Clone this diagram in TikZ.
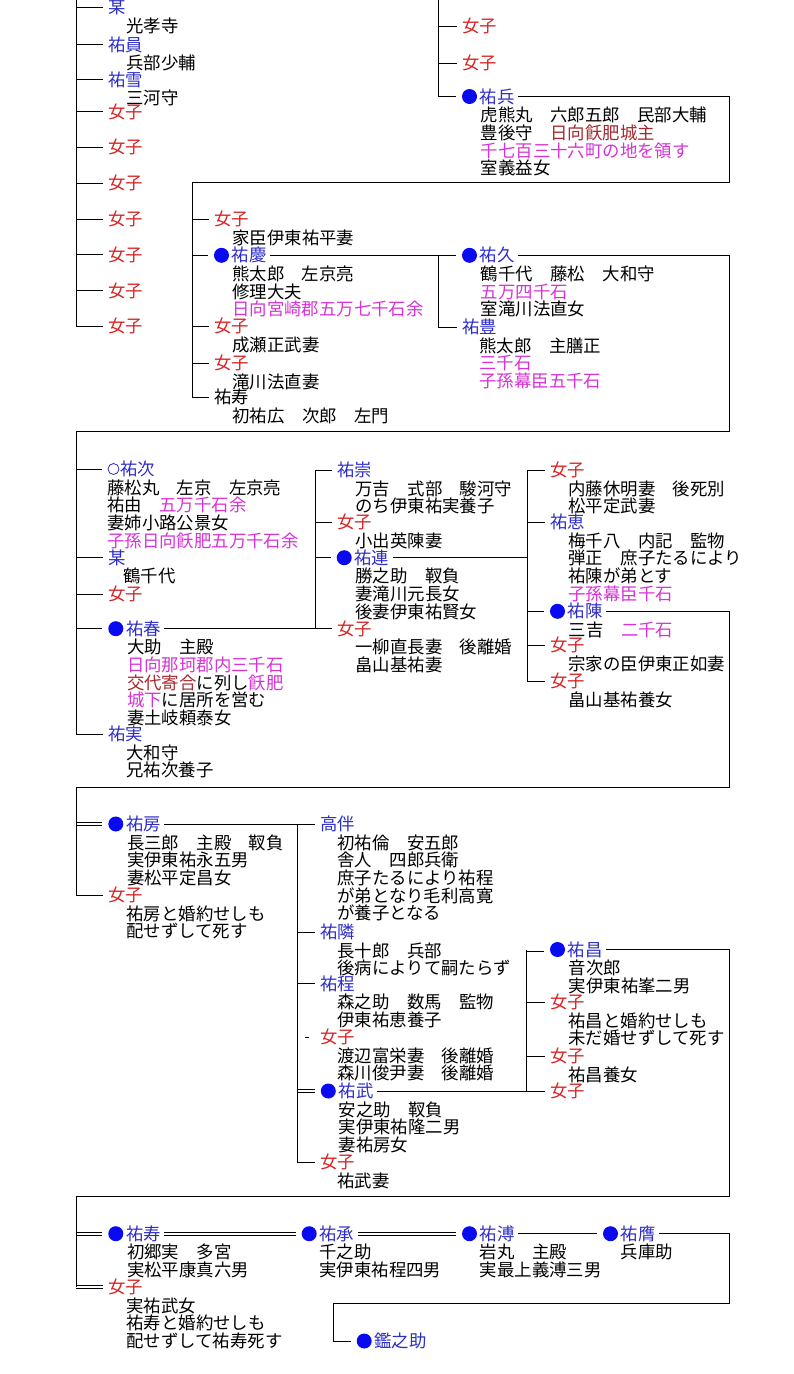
\documentclass[tikz,border=0pt]{standalone}
\usepackage{fontspec}
\setmainfont{Noto Sans CJK JP}
\usetikzlibrary{positioning}
\definecolor{kinblue}{RGB}{45,45,200}
\definecolor{dotblue}{RGB}{10,10,240}
\definecolor{jored}{RGB}{215,35,35}
\definecolor{kokumg}{RGB}{215,50,215}
\definecolor{dkred}{RGB}{165,40,45}
\newcommand\mg[1]{\textcolor{kokumg}{#1}}
\newcommand\dr[1]{\textcolor{dkred}{#1}}
\newcommand\rows[1]{\vtop{\lineskiplimit=-5pt\let\\\cr\halign{##\hfil\cr#1\crcr}}}
\newcommand\info[3][18]{\node[info] (#2-i) at ([shift={(#1,18.5)}]#2.base west) {\rows{#3}};}
\tikzset{
    nm/.style={anchor=west, inner sep=0pt, text height=15.3pt, text depth=2.1pt, text=kinblue},
    jo/.style={nm, text=jored},
    info/.style={anchor=base west, inner sep=0pt},
    dot/.style={circle, fill=dotblue, inner sep=0pt, minimum size=15pt},
    ring/.style={circle, draw=kinblue, line width=0.8pt, inner sep=0pt, minimum size=11pt},
    tick/.style={shorten >=5.5pt},
    lnk/.style={shorten <=3pt, shorten >=5.5pt},
    lead/.style={shorten <=3pt},
    dbl/.style={double, double distance=2.4pt}
}
\begin{document}
\begin{tikzpicture}[x=1pt, y=-1pt, line width=0.8pt,
    every node/.append style={font=\fontsize{17.4pt}{17.7pt}\selectfont}]
\useasboundingbox (0,0) rectangle (794,1374);

% first column, top
\coordinate (tA) at (76,-5);
\node[nm] (bou-a) at (108,7) {某};
\info{bou-a}{光孝寺}
\node[nm] (sukekazu) at (108,44.5) {祐員};
\info{sukekazu}{兵部少輔}
\node[nm] (sukeyuki) at (108,79.5) {祐雪};
\info{sukeyuki}{三河守}
\foreach \i in {0,...,6}{
    \node[jo] (lj\i) at (108,{111.5+35.8*\i}) {女子};
}
\draw[tick] (tA) |- (lj6);
\foreach \n in {bou-a,sukekazu,sukeyuki,lj0,lj1,lj2,lj3,lj4,lj5}
    \draw[tick] (tA |- \n) -- (\n);

% right column, top
\coordinate (tB) at (438,-5);
\node[jo] (rj1) at (462,26) {女子};
\node[jo] (rj2) at (462,63) {女子};
\node[dot] (suketaka-d) at (469.5,96.5) {};
\node[nm, right=2pt of suketaka-d] (suketaka) {祐兵};
\info[1]{suketaka}{虎熊丸　六郎五郎　民部大輔\\豊後守　\dr{日向飫肥城主}\\\mg{千七百三十六町の地を領す}\\室義益女}
\draw[tick] (tB) |- (suketaka-d);
\foreach \n in {rj1,rj2}
    \draw[tick] (tB |- \n) -- (\n);

% children of suketaka
\coordinate (rA) at (729,182);
\coordinate (tC) at (192,182);
\node[jo] (s2j1) at (214,219) {女子};
\info{s2j1}{家臣伊東祐平妻}
\node[dot] (sukeyoshi-d) at (221.5,255.3) {};
\node[nm, right=2pt of sukeyoshi-d] (sukeyoshi) {祐慶};
\info[0.5]{sukeyoshi}{熊太郎　左京亮\\修理大夫\\\mg{日向宮崎郡五万七千石余}}
\node[jo] (s2j2) at (214,326) {女子};
\info{s2j2}{成瀬正武妻}
\node[jo] (s2j3) at (214,363) {女子};
\info{s2j3}{滝川法直妻}
\node[nm, text=black] (sukenaga) at (214,397) {祐寿};
\info{sukenaga}{初祐広　次郎　左門}
\draw[lnk] (suketaka.east) -| (rA) -- (tC) |- (sukenaga);
\foreach \n in {s2j1,sukeyoshi-d,s2j2,s2j3}
    \draw[tick] (tC |- \n) -- (\n);

% children of sukeyoshi
\coordinate (tD) at (438,255.3);
\node[dot] (sukehisa-d) at (469.5,255.3) {};
\node[nm, right=2pt of sukehisa-d] (sukehisa) {祐久};
\info[1]{sukehisa}{鶴千代　藤松　大和守\\\mg{五万四千石}\\室滝川法直女}
\node[nm] (suketoyo) at (462,327) {祐豊};
\info[17]{suketoyo}{熊太郎　主膳正\\\mg{三千石}\\\mg{子孫幕臣五千石}}
\draw[lnk] (sukeyoshi.east) -- (sukehisa-d);
\draw[tick] (tD) |- (suketoyo);

% children of sukehisa
\coordinate (rC) at (729,431);
\coordinate (tE) at (76,431);
\node[ring] (suketsugu-r) at (113.5,469) {};
\node[nm, right=0.5pt of suketsugu-r] (suketsugu) {祐次};
\info[-13]{suketsugu}{藤松丸　左京　左京亮\\祐由　\mg{五万千石余}\\妻姉小路公景女\\\mg{子孫日向飫肥五万千石余}}
\node[nm] (bou-b) at (108,557.5) {某};
\info[15]{bou-b}{鶴千代}
\node[jo] (s3j1) at (108,594) {女子};
\node[dot] (sukeharu-d) at (115.8,628.7) {};
\node[nm, right=2pt of sukeharu-d] (sukeharu) {祐春};
\info[1]{sukeharu}{大助　主殿\\\mg{日向那珂郡内三千石}\\\dr{交代寄合}に列し\mg{飫肥}\\\mg{城下}に居所を営む\\妻土岐頼泰女}
\node[nm] (sukezane) at (108,734) {祐実};
\info{sukezane}{大和守\\兄祐次養子}
\draw[lnk] (sukehisa.east) -| (rC) -- (tE) |- (sukezane);
\foreach \n in {suketsugu-r,bou-b,s3j1,sukeharu-d}
    \draw[tick] (tE |- \n) -- (\n);

% children of sukeharu
\coordinate (tF) at (315,470);
\node[nm] (sukemune) at (337,470) {祐崇};
\info{sukemune}{万吉　式部　駿河守\\のち伊東祐実養子}
\node[jo] (s3j2) at (337,522) {女子};
\info{s3j2}{小出英陳妻}
\node[dot] (suketsura-d) at (344.2,557.7) {};
\node[nm, right=2pt of suketsura-d] (suketsura) {祐連};
\info[1]{suketsura}{勝之助　靫負\\妻滝川元長女\\後妻伊東祐賢女}
\node[jo] (s3j3) at (337,628.7) {女子};
\info{s3j3}{一柳直長妻　後離婚\\畠山基祐妻}
\draw[tick] (tF) -- (sukemune);
\draw (tF) -- (tF |- s3j3);
\draw[lnk] (sukeharu.east) -- (s3j3);
\foreach \n in {s3j2,suketsura-d}
    \draw[tick] (tF |- \n) -- (\n);

% children of suketsura
\coordinate (tG) at (527,470);
\node[jo] (s3j4) at (550,470) {女子};
\info{s3j4}{内藤休明妻　後死別\\松平定武妻}
\node[nm] (sukeshige) at (550,522) {祐恵};
\info{sukeshige}{梅千八　内記　監物\\弾正　庶子たるにより\\祐陳が弟とす\\\mg{子孫幕臣千石}}
\node[dot] (sukenobu-d) at (557.5,611.3) {};
\node[nm, right=2pt of sukenobu-d] (sukenobu) {祐陳};
\info[1]{sukenobu}{三吉　\mg{二千石}}
\node[jo] (s3j5) at (550,645.3) {女子};
\info{s3j5}{宗家の臣伊東正如妻}
\node[jo] (s3j6) at (550,681.3) {女子};
\info{s3j6}{畠山基祐養女}
\draw[tick] (tG) |- (s3j6);
\draw[lead] (suketsura.east) -- (suketsura.east -| tG);
\foreach \n in {s3j4,sukeshige,sukenobu-d,s3j5}
    \draw[tick] (tG |- \n) -- (\n);

% children of sukenobu
\coordinate (rH) at (729,787);
\coordinate (tH) at (76,787);
\node[dot] (sukefusa-d) at (115.8,824) {};
\node[nm, right=2pt of sukefusa-d] (sukefusa) {祐房};
\info[1]{sukefusa}{長三郎　主殿　靫負\\実伊東祐永五男\\妻松平定昌女}
\node[jo] (s4j1) at (108,895) {女子};
\info{s4j1}{祐房と婚約せしも\\配せずして死す}
\draw[dbl, tick] (tH |- sukefusa-d) -- (sukefusa-d);
\draw[lnk] (sukenobu.east) -| (rH) -- (tH) |- (s4j1);

% children of sukefusa
\coordinate (tI) at (297,824);
\node[nm] (takatomo) at (320,824) {高伴};
\info[17]{takatomo}{初祐倫　安五郎\\舎人　四郎兵衛\\庶子たるにより祐程\\が弟となり毛利高寛\\が養子となる}
\node[nm] (sukechika) at (320,932) {祐隣};
\info[17]{sukechika}{長十郎　兵部\\後病によりて嗣たらず}
\node[nm] (sukenori) at (320,983.7) {祐程};
\info[17]{sukenori}{森之助　数馬　監物\\伊東祐恵養子}
\node[jo] (s4j2) at (320,1037) {女子};
\info[17]{s4j2}{渡辺富栄妻　後離婚\\森川俊尹妻　後離婚}
\node[dot] (suketake-d) at (328.3,1091) {};
\node[nm, right=2pt of suketake-d] (suketake) {祐武};
\info[0]{suketake}{安之助　靫負\\実伊東祐隆二男\\妻祐房女}
\node[jo] (s4j3) at (320,1162) {女子};
\info[17]{s4j3}{祐武妻}
\draw[dbl, tick] (tI |- suketake-d) -- (suketake-d);
\draw[lnk] (sukefusa.east) -- (takatomo);
\draw[tick] (tI) |- (s4j3);
\foreach \n in {sukechika,sukenori}
    \draw[tick] (tI |- \n) -- (\n);
\draw ([xshift=-15pt]s4j2.west) -- ([xshift=-11pt]s4j2.west);

% children of suketake
\coordinate (tJ) at (526,949.5);
\node[dot] (sukemasa-d) at (557.5,949.5) {};
\node[nm, right=2pt of sukemasa-d] (sukemasa) {祐昌};
\info[1]{sukemasa}{音次郎\\実伊東祐峯二男}
\node[jo] (s4j4) at (550,1002) {女子};
\info{s4j4}{祐昌と婚約せしも\\未だ婚せずして死す}
\node[jo] (s4j5) at (550,1056.3) {女子};
\info{s4j5}{祐昌養女}
\node[jo] (s4j6) at (550,1091) {女子};
\draw[dbl, tick] (tJ) -- (sukemasa-d);
\draw[tick] (tJ) |- (s4j6);
\draw[lnk] (suketake.east) -- (s4j6);
\foreach \n in {s4j4,s4j5}
    \draw[tick] (tJ |- \n) -- (\n);

% children of sukemasa
\coordinate (rK) at (729,1196);
\coordinate (tK) at (76,1196);
\node[dot] (suketoshi-d) at (115.8,1233.7) {};
\node[nm, right=2pt of suketoshi-d] (suketoshi) {祐寿};
\info[1]{suketoshi}{初郷実　多宮\\実松平康真六男}
\node[jo] (s5j1) at (108,1287) {女子};
\info{s5j1}{実祐武女\\祐寿と婚約せしも\\配せずして祐寿死す}
\draw[dbl, tick] (tK |- suketoshi-d) -- (suketoshi-d);
\draw[dbl, tick] (tK |- s5j1) -- (s5j1);
\draw[lead] (sukemasa.east) -| (rK) -- (tK) -- (tK |- s5j1);

% later heads
\node[dot] (suketsune-d) at (309.2,1233.7) {};
\node[nm, right=2pt of suketsune-d] (suketsune) {祐承};
\info[0]{suketsune}{千之助\\実伊東祐程四男}
\node[dot] (sukehiro-d) at (469.5,1233.7) {};
\node[nm, right=2pt of sukehiro-d] (sukehiro) {祐溥};
\info[0]{sukehiro}{岩丸　主殿\\実最上義溥三男}
\node[dot] (sukeyasu-d) at (610.5,1233.7) {};
\node[nm, right=2pt of sukeyasu-d] (sukeyasu) {祐膺};
\info[0]{sukeyasu}{兵庫助}
\node[dot] (kannosuke-d) at (364.2,1341) {};
\node[nm, right=2pt of kannosuke-d] (kannosuke) {鑑之助};
\coordinate (rL) at (729,1303);
\coordinate (tL) at (333,1303);
\draw[dbl, lnk] (suketoshi.east) -- (suketsune-d);
\draw[dbl, lnk] (suketsune.east) -- (sukehiro-d);
\draw[lnk] (sukehiro.east) -- (sukeyasu-d);
\draw[lnk] (sukeyasu.east) -| (rL) -- (tL) |- (kannosuke-d);
\end{tikzpicture}
\end{document}
